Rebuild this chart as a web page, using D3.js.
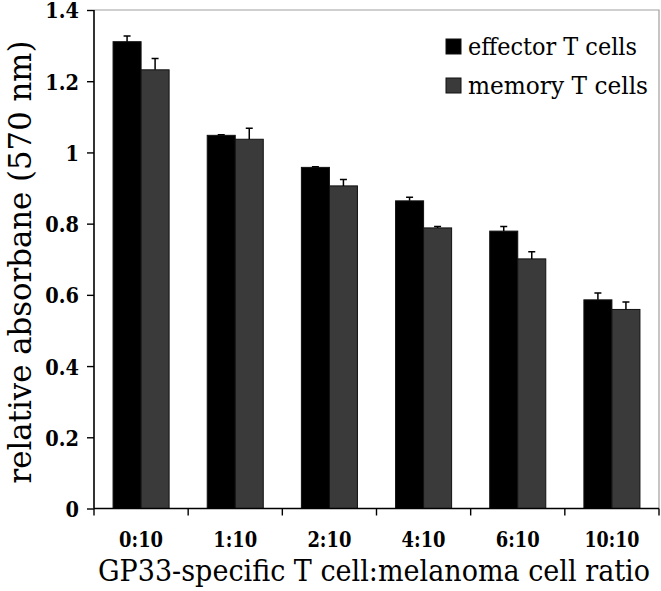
<!DOCTYPE html>
<html><head><meta charset="utf-8">
<script src="https://cdn.jsdelivr.net/npm/d3@7/dist/d3.min.js"></script>
<style>body{margin:0;background:#fff}svg{display:block}</style>
</head><body>
<svg id="chart" width="661" height="591"></svg>
<script>
const categories = ["0:10", "1:10", "2:10", "4:10", "6:10", "10:10"];
const seriesNames = ["effector T cells", "memory T cells"];
const effector = [1.311, 1.048, 0.958, 0.864, 0.779, 0.586];
const effectorErr = [0.016, 0.002, 0.002, 0.010, 0.013, 0.019];
const memory = [1.232, 1.037, 0.906, 0.788, 0.701, 0.559];
const memoryErr = [0.032, 0.031, 0.018, 0.004, 0.020, 0.021];
const yTickValues = [0, 0.2, 0.4, 0.6, 0.8, 1, 1.2, 1.4];
const yTickLabels = ["0", "0.2", "0.4", "0.6", "0.8", "1", "1.2", "1.4"];
const xTitle = "GP33-specific T cell:melanoma cell ratio";
const yTitle = "relative absorbane (570 nm)";

const svg = d3.select("#chart");
const L = 94, R = 659, T = 10, B = 508.5;
const font = "'DejaVu Serif', 'Liberation Serif', serif";

const x = d3.scaleBand().domain(categories).range([L, R]).padding(0);
const inner = d3.scaleBand().domain(seriesNames).range([0, x.bandwidth()]).paddingInner(0).paddingOuter(0.68);
const y = d3.scaleLinear().domain([0, 1.4]).range([B, T]);

const colors = {"effector T cells": "#000000", "memory T cells": "#3a3a3a"};

// frame (top and right, gray)
svg.append("path").attr("d", `M${L},${T}H${R}V${B}`).attr("fill", "none").attr("stroke", "#a0a0a0").attr("stroke-width", 1.2);

const rows = categories.map((c, i) => ({
  cat: c,
  vals: [
    {s: seriesNames[0], v: effector[i], e: effectorErr[i]},
    {s: seriesNames[1], v: memory[i], e: memoryErr[i]}
  ]
}));

const g = svg.append("g");
const grp = g.selectAll("g.grp").data(rows).join("g").attr("transform", d => `translate(${x(d.cat)},0)`);
grp.selectAll("rect").data(d => d.vals).join("rect")
  .attr("x", d => inner(d.s)).attr("width", inner.bandwidth())
  .attr("y", d => y(d.v)).attr("height", d => y(0) - y(d.v))
  .attr("fill", d => colors[d.s]).attr("stroke", "#111").attr("stroke-width", 1);
// error bars (upper only)
grp.selectAll("path.err").data(d => d.vals).join("path").attr("class", "err")
  .attr("d", d => {
    const cx = inner(d.s) + inner.bandwidth() / 2;
    const y1 = y(d.v), y2 = y(d.v + d.e);
    return `M${cx},${y1}V${y2}M${cx - 3.5},${y2}H${cx + 3.5}`;
  })
  .attr("fill", "none").attr("stroke", "#000").attr("stroke-width", 1.5);

// y axis
const yAxis = d3.axisLeft(y).tickValues(yTickValues).tickFormat((d, i) => yTickLabels[i]).tickSize(7).tickPadding(10);
const ya = svg.append("g").attr("transform", `translate(${L},0)`).call(yAxis);
ya.select(".domain").attr("stroke", "#000").attr("stroke-width", 1.6).attr("d", `M0,${T}V${B}`);
ya.selectAll(".tick line").attr("stroke", "#000").attr("stroke-width", 1.4);
ya.selectAll(".tick text").attr("font-family", font).attr("font-size", 22).attr("font-weight", "bold")
  .attr("fill", "#000").attr("dy", "0.36em")
  .attr("transform", "scale(0.88,1)");

// x axis
const xTicks = categories.map(c => x(c)).concat([R]);
const xa = svg.append("g").attr("transform", `translate(0,${B})`);
xa.append("path").attr("d", `M${L},0H${R}`).attr("stroke", "#000").attr("stroke-width", 1.6);
xa.selectAll("line.t").data(xTicks).join("line").attr("class", "t")
  .attr("x1", d => d).attr("x2", d => d).attr("y1", 0).attr("y2", 7)
  .attr("stroke", "#000").attr("stroke-width", 1.4);
xa.selectAll("text").data(categories).join("text")
  .attr("x", d => x(d) + x.bandwidth() / 2).attr("y", 38)
  .attr("text-anchor", "middle").attr("font-family", font).attr("font-size", 22).attr("font-weight", "bold")
  .attr("textLength", d => d.length === 5 ? 55 : 44).attr("lengthAdjust", "spacingAndGlyphs")
  .text(d => d);

// titles
svg.append("text").attr("x", 374).attr("y", 581).attr("text-anchor", "middle")
  .attr("font-family", font).attr("font-size", 30)
  .attr("textLength", 552).attr("lengthAdjust", "spacingAndGlyphs").text(xTitle);
svg.append("text").attr("transform", "translate(31,262) rotate(-90)").attr("text-anchor", "middle")
  .attr("font-family", font).attr("font-size", 31)
  .attr("textLength", 443).attr("lengthAdjust", "spacingAndGlyphs").text(yTitle);

// legend
const lg = svg.append("g").selectAll("g").data(seriesNames).join("g")
  .attr("transform", (d, i) => `translate(446,${39 + i * 39})`);
lg.append("rect").attr("width", 15).attr("height", 15).attr("fill", d => colors[d]).attr("stroke", "#111");
lg.append("text").attr("x", 22).attr("y", 16).attr("font-family", font).attr("font-size", 24)
  .attr("textLength", (d, i) => i === 0 ? 169 : 180).attr("lengthAdjust", "spacingAndGlyphs").text(d => d);
</script>
</body></html>
